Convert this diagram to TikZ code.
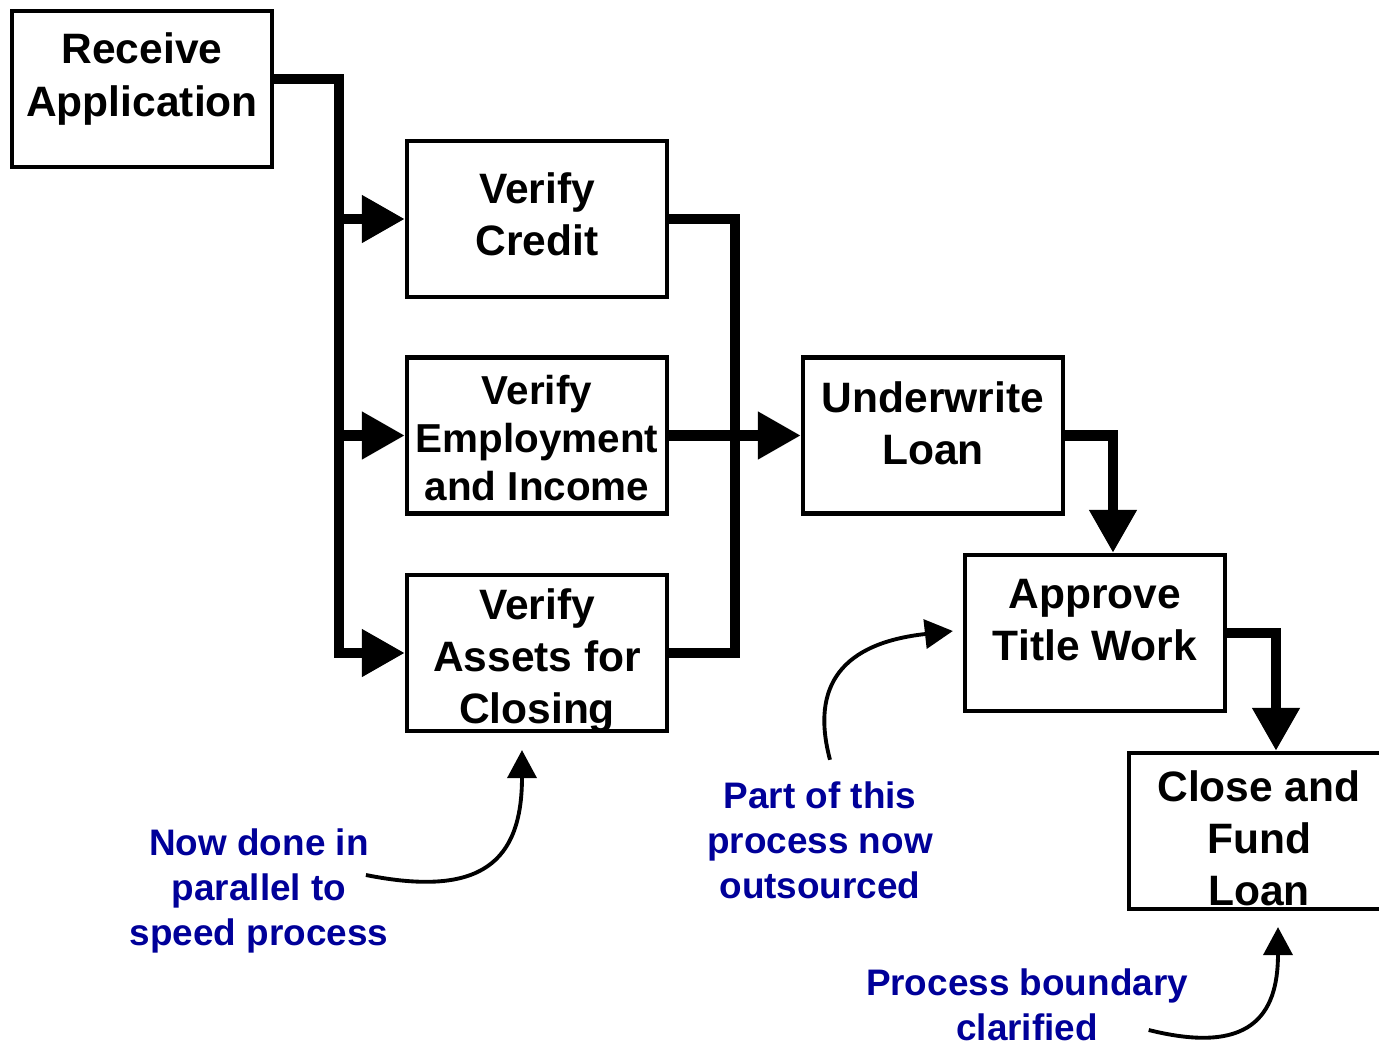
\documentclass[tikz,border=0pt]{standalone}
\usepackage{fontspec}
\setmainfont{Liberation Sans}
\usetikzlibrary{arrows.meta}
\definecolor{notecolor}{RGB}{0,0,153}
\tikzset{
  box/.style={draw, line width=1.2pt, minimum width=2.60cm, minimum height=1.56cm, inner sep=0pt},
  boxtext/.style={align=center, inner sep=0pt, font=\fontsize{12.1}{14.8}\selectfont\bfseries},
  notetext/.style={align=center, inner sep=0pt, text=notecolor, font=\fontsize{10.5}{12.8}\selectfont\bfseries},
  flow/.style={line width=3pt},
  flowarr/.style={flow, -{Triangle[length=4.3mm,width=4.5mm]}},
  pointer/.style={line width=1.1pt, -{Triangle[length=2.8mm,width=2.9mm]}}
}

\begin{document}
\begin{tikzpicture}
            \useasboundingbox (0,0) rectangle (13.79,-10.45);
            \node[box] (recv) at (1.42,-0.89) {};
            \node[box] (credit) at (5.37,-2.19) {};
            \node[box] (employ) at (5.37,-4.355) {};
            \node[box] (assets) at (5.37,-6.53) {};
            \node[box] (under) at (9.33,-4.355) {};
            \node[box] (approve) at (10.95,-6.33) {};
            \node[box] (close) at (12.59,-8.31) {};
            \node[boxtext] (recvtxt) at (recv) [yshift=1.0mm] {Receive\\Application};
            \node[boxtext] (credittxt) at (credit) [yshift=0.45mm] {Verify\\Credit};
            \node[boxtext, font=\fontsize{11.5}{13.65}\selectfont\bfseries] (employtxt) at (employ) [yshift=-0.25mm] {Verify\\Employment\\and Income};
            \node[boxtext] (assetstxt) at (assets) [yshift=-0.8mm] {Verify\\Assets for\\Closing};
            \node[boxtext] (undertxt) at (under) [yshift=1.25mm] {Underwrite\\Loan};
            \node[boxtext] (approvetxt) at (approve) [yshift=1.3mm] {Approve\\Title Work};
            \node[boxtext] (closetxt) at (close) [yshift=-0.7mm] {Close and\\Fund\\Loan};
            \node[notetext] (pnote) at (2.59,-8.91) {Now done in\\parallel to\\speed process};
            \node[notetext] (onote) at (8.20,-8.40) {Part of this\\process now\\outsourced};
            \node[notetext] (bnote) at (10.27,-10.05) {Process boundary\\clarified};
            \coordinate (trunk) at (3.39,-0.79);
            \coordinate (merge) at (7.35,0);
            \draw[flowarr] (recv.east |- trunk) -- (trunk) -- (trunk |- assets.west) -- (assets.west);
            \draw[flowarr] (trunk |- credit.west) -- (credit.west);
            \draw[flowarr] (trunk |- employ.west) -- (employ.west);
            \draw[flow] (credit.east) -- (credit.east -| merge) -- (assets.east -| merge) -- (assets.east);
            \draw[flowarr] (employ.east) -- (under.west);
            \draw[flowarr] (under.east) -| ([xshift=1.8mm]approve.north);
            \draw[flowarr] (approve.east) -| ([xshift=1.7mm]close.north);
            \draw[pointer] ([shift={(-2.3mm,1.6mm)}]pnote.east) .. controls +(1.15,-0.23) and +(0,-1.12) .. ([shift={(-1.5mm,-1.7mm)}]assets.south);
            \draw[pointer] ([shift={(1.0mm,2.1mm)}]onote.north) .. controls +(-0.2,0.75) and +(-1.1,-0.12) .. ([shift={(-1.0mm,0.2mm)}]approve.west);
            \draw[pointer] ([shift={(-4.0mm,-2.5mm)}]bnote.east) .. controls +(1.0,-0.25) and +(0,-0.9) .. ([shift={(1.9mm,-1.6mm)}]close.south);
        \end{tikzpicture}
\end{document}
